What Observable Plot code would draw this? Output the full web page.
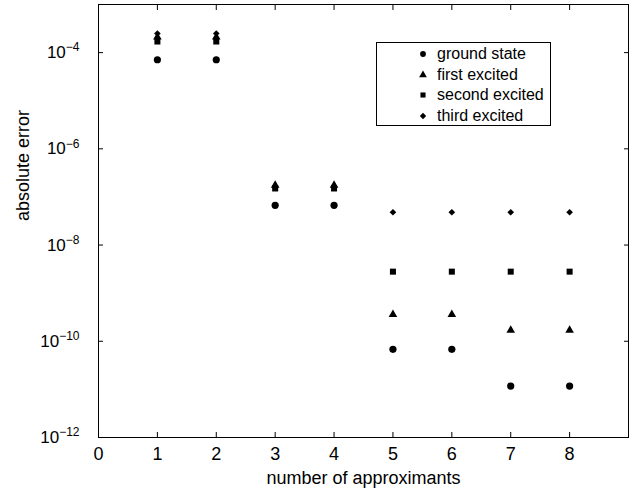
<!DOCTYPE html>
<html>
<head>
<meta charset="utf-8">
<script src="https://cdn.jsdelivr.net/npm/d3@7"></script>
<script src="https://cdn.jsdelivr.net/npm/@observablehq/plot@0.6"></script>
<style>
  html, body { margin: 0; padding: 0; background: white; }
  #wrap { position: relative; width: 629px; height: 492px; font-family: "Liberation Sans", Arial, Helvetica, sans-serif; }
  #legend { position: absolute; left: 376px; top: 42px; width: 175px; height: 84px; border: 1px solid black; background: white; box-sizing: border-box; }
  #legend .row { position: absolute; left: 0; height: 20px; display: flex; align-items: center; font-size: 16px; white-space: nowrap; }
  #legend svg { position: absolute; left: 46px; overflow: visible; }
  #legend span { position: absolute; left: 60px; }
</style>
</head>
<body>
<div id="wrap"></div>
<script>
// ---- data ----
const approximants = [1, 2, 3, 4, 5, 6, 7, 8];
const seriesNames = ["ground state", "first excited", "second excited", "third excited"];
const seriesSymbols = ["circle", "triangle", "square", "diamond2"];
const groundState   = [7.1e-5, 7.1e-5, 6.7e-8, 6.7e-8, 6.8e-11, 6.8e-11, 1.17e-11, 1.17e-11];
const firstExcited  = [2.1e-4, 2.1e-4, 1.75e-7, 1.75e-7, 3.6e-10, 3.6e-10, 1.7e-10, 1.7e-10];
const secondExcited = [1.7e-4, 1.7e-4, 1.5e-7, 1.5e-7, 2.8e-9, 2.8e-9, 2.8e-9, 2.8e-9];
const thirdExcited  = [2.5e-4, 2.5e-4, 1.6e-7, 1.6e-7, 4.8e-8, 4.8e-8, 4.8e-8, 4.8e-8];
const xTicks = [0, 1, 2, 3, 4, 5, 6, 7, 8];
const yTicks = [1e-12, 1e-10, 1e-8, 1e-6, 1e-4];
const xLabel = "number of approximants";
const yLabel = "absolute error";

const seriesValues = [groundState, firstExcited, secondExcited, thirdExcited];
const seriesR = [3.6, 3.2, 3.4, 3.0];

const rows = [];
seriesNames.forEach((name, i) => {
  approximants.forEach((n, j) => rows.push({series: name, n, err: seriesValues[i][j]}));
});

const fmtY = d => "10^\u2212" + Math.abs(Math.round(Math.log10(d)));

const marks = [
  Plot.frame({stroke: "black", strokeWidth: 1}),
  Plot.axisX({anchor: "bottom", ticks: xTicks, tickSize: -5, tickPadding: 15, label: null, fontSize: 18, tickFormat: d => String(d)}),
  Plot.axisX({anchor: "top", ticks: xTicks, tickSize: -5, label: null, tickFormat: () => ""}),
  Plot.axisY({anchor: "left", ticks: yTicks, tickSize: -5, tickPadding: 24, label: null, fontSize: 17, tickFormat: fmtY}),
  Plot.axisY({anchor: "right", ticks: yTicks, tickSize: -5, label: null, tickFormat: () => ""}),
  Plot.text([xLabel], {frameAnchor: "bottom", dy: 46, lineAnchor: "bottom", fontSize: 18}),
  Plot.text([yLabel], {frameAnchor: "left", rotate: -90, dx: -70, lineAnchor: "bottom", fontSize: 18})
];
seriesNames.forEach((name, i) => {
  marks.push(Plot.dot(rows.filter(d => d.series === name), {
    x: "n", y: "err", symbol: () => seriesSymbols[i], r: seriesR[i], fill: "black", stroke: "none"
  }));
});

const chart = Plot.plot({
  width: 629,
  height: 492,
  marginLeft: 98,
  marginRight: 1,
  marginTop: 4,
  marginBottom: 55,
  style: {fontFamily: "'Liberation Sans', Arial, Helvetica, sans-serif", fontSize: "17px", background: "white", color: "black", overflow: "visible"},
  x: {domain: [0, 9]},
  y: {type: "log", domain: [1e-12, 1e-3]},
  symbol: {type: "identity"},
  marks
});

// superscript exponents on the y tick labels
d3.select(chart).selectAll("text").each(function() {
  const t = this.textContent;
  if (t.startsWith("10^")) {
    const sel = d3.select(this);
    sel.text("");
    sel.append("tspan").text("10");
    sel.append("tspan").attr("dy", "-0.55em").attr("font-size", "12px").text(t.slice(3));
  }
});

const wrap = document.getElementById("wrap");
wrap.appendChild(chart);

// legend box
const legend = document.createElement("div");
legend.id = "legend";
seriesNames.forEach((name, i) => {
  const row = document.createElement("div");
  row.className = "row";
  row.style.top = (1 + i * 20.5) + "px";
  const s = d3.create("svg").attr("width", 1).attr("height", 20).style("top", "0px");
  const sym = Plot.scale({symbol: {type: "identity"}});
  const symbolObj = {circle: d3.symbolCircle, triangle: d3.symbolTriangle, square: d3.symbolSquare, diamond2: d3.symbolDiamond2}[seriesSymbols[i]];
  s.append("path").attr("transform", "translate(0,10)").attr("d", d3.symbol(symbolObj, 26)()).attr("fill", "black");
  row.appendChild(s.node());
  const label = document.createElement("span");
  label.textContent = name;
  row.appendChild(label);
  legend.appendChild(row);
});
wrap.appendChild(legend);
</script>
</body>
</html>
